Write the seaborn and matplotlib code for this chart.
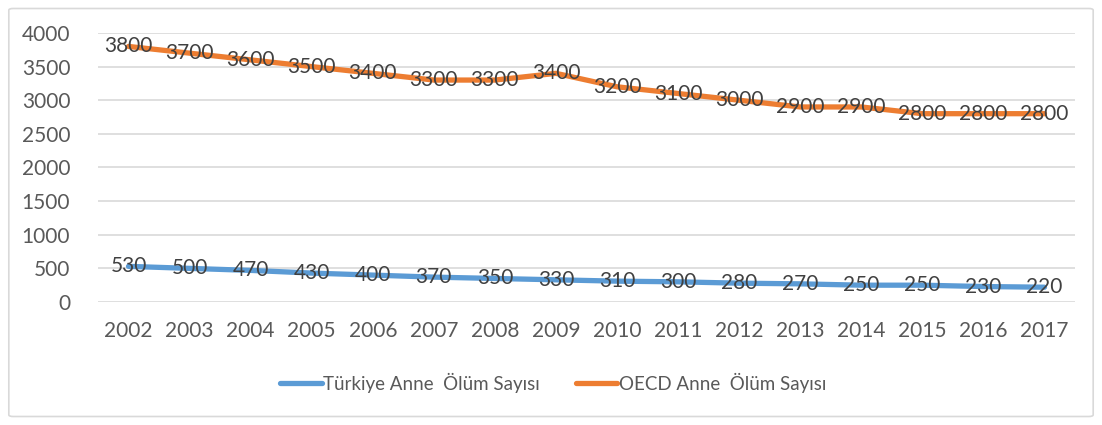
import matplotlib.pyplot as plt
import seaborn as sns
import pandas as pd
from matplotlib.patches import FancyBboxPatch

years = ['2002', '2003', '2004', '2005', '2006', '2007', '2008', '2009',
         '2010', '2011', '2012', '2013', '2014', '2015', '2016', '2017']
turkiye = [530, 500, 470, 430, 400, 370, 350, 330, 310, 300, 280, 270, 250, 250, 230, 220]
oecd = [3800, 3700, 3600, 3500, 3400, 3300, 3300, 3400, 3200, 3100, 3000, 2900, 2900, 2800, 2800, 2800]
series_names = ['Türkiye Anne  Ölüm Sayısı', 'OECD Anne  Ölüm Sayısı']
y_ticks = [0, 500, 1000, 1500, 2000, 2500, 3000, 3500, 4000]

sns.set_style('white')
plt.rcParams['font.family'] = ['Lato', 'DejaVu Sans']

df = pd.DataFrame({
    'year': years * 2,
    'value': turkiye + oecd,
    'series': [series_names[0]] * len(years) + [series_names[1]] * len(years),
})

fig = plt.figure(figsize=(11.02, 4.25), dpi=100)
ax = fig.add_axes([0.0889, 0.2894, 0.8866, 0.633])

palette = {series_names[0]: '#5B9BD5', series_names[1]: '#ED7D31'}
sns.lineplot(data=df, x='year', y='value', hue='series', palette=palette,
             linewidth=3.8, ax=ax, sort=False, solid_capstyle='round')

# data labels centred on points
for vals in (turkiye, oecd):
    for i, v in enumerate(vals):
        ax.text(i, v, str(v), ha='center', va='center', fontsize=15, color='#404040')

ax.set_xlim(-0.5, len(years) - 0.5)
ax.set_ylim(0, 4000)
ax.set_yticks(y_ticks)
ax.yaxis.grid(True, color='#D9D9D9', linewidth=1.2)
ax.set_axisbelow(True)
for s in ax.spines.values():
    s.set_visible(False)
ax.tick_params(axis='both', length=0, labelsize=15, labelcolor='#595959')
ax.tick_params(axis='x', pad=14)
ax.tick_params(axis='y', pad=20)
ax.set_xlabel('')
ax.set_ylabel('')

leg = ax.legend(loc='center', bbox_to_anchor=(0.466, -0.30), ncol=2, frameon=False,
                fontsize=13.5, handlelength=2.2, handletextpad=0.1, columnspacing=1.9)
for t in leg.get_texts():
    t.set_color('#595959')

fig.patches.append(FancyBboxPatch((0.008, 0.02), 0.984, 0.96, boxstyle='round,pad=0,rounding_size=0.004',
                                  transform=fig.transFigure, facecolor='none',
                                  edgecolor='#D9D9D9', linewidth=1.2))

plt.savefig('out.png', dpi=100)
plt.close()
